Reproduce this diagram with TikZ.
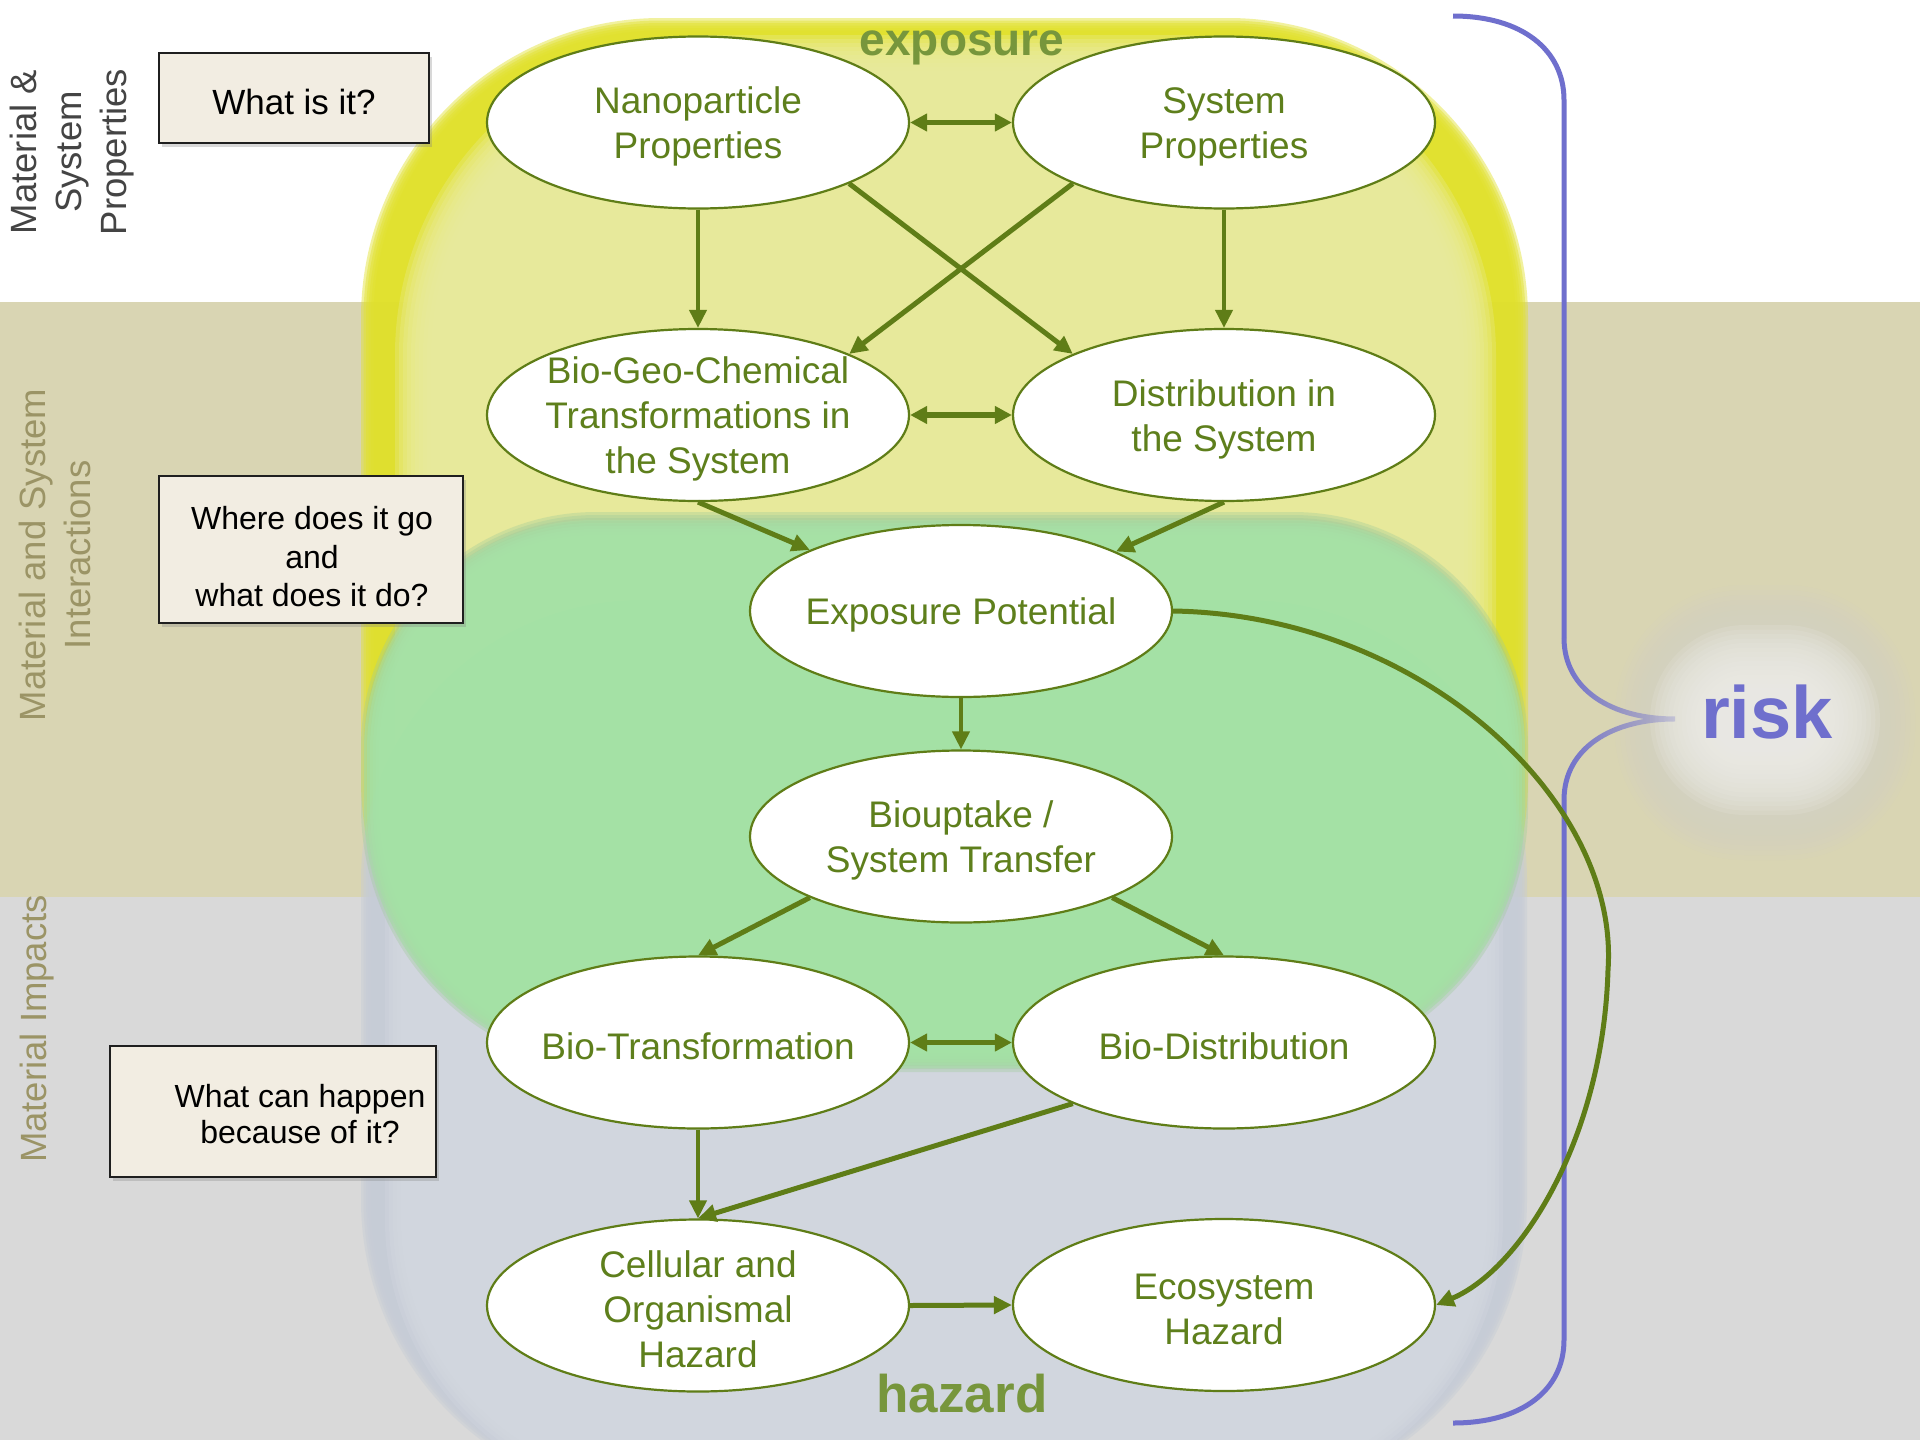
\documentclass[tikz,border=0pt]{standalone}
\usepackage{fontspec}
\setmainfont{Liberation Sans}
\usetikzlibrary{arrows.meta,shapes.geometric,shadows,fadings}

\definecolor{olv}{HTML}{5F7D17}
\definecolor{olvtxt}{HTML}{5E7F1C}
\definecolor{lblc}{HTML}{77963C}
\definecolor{tanband}{HTML}{D9D5B3}
\definecolor{grayband}{HTML}{D9D9D9}
\definecolor{ybright}{HTML}{E1E12C}
\definecolor{ylight}{HTML}{EAEC9F}
\definecolor{grn}{HTML}{A6E3A7}
\definecolor{grnrim}{HTML}{9FCB9A}
\definecolor{bluerim}{HTML}{C6CCD6}
\definecolor{bluein}{HTML}{D4D9E1}
\definecolor{riskc}{HTML}{6F6FCD}
\definecolor{sidedark}{HTML}{444444}
\definecolor{sideolive}{HTML}{9B9466}
\definecolor{boxfill}{HTML}{F2EDE2}
\definecolor{glowring}{HTML}{D3D1C6}
\definecolor{glowcore}{HTML}{EEEDE9}

% rounded rectangle, shrunk by an inset
% #1 x1, #2 y1, #3 x2, #4 y2, #5 top corner radius, #6 bottom corner radius, #7 inset, #8 fill options
\newcommand\rrfill[8]{%
  \fill[#8] ({#1+#7},{#2+#5})
    .. controls ({#1+#7},{#2+#5-0.552*(#5-#7)}) and ({#1+#5-0.552*(#5-#7)},{#2+#7}) .. ({#1+#5},{#2+#7})
    -- ({#3-#5},{#2+#7})
    .. controls ({#3-#5+0.552*(#5-#7)},{#2+#7}) and ({#3-#7},{#2+#5-0.552*(#5-#7)}) .. ({#3-#7},{#2+#5})
    -- ({#3-#7},{#4-#6})
    .. controls ({#3-#7},{#4-#6+0.552*(#6-#7)}) and ({#3-#6+0.552*(#6-#7)},{#4-#7}) .. ({#3-#6},{#4-#7})
    -- ({#1+#6},{#4-#7})
    .. controls ({#1+#6-0.552*(#6-#7)},{#4-#7}) and ({#1+#7},{#4-#6+0.552*(#6-#7)}) .. ({#1+#7},{#4-#6})
    -- cycle;}
% soft-edged version: stacked translucent insets
% #7 colour, #8 number of layers, #9 inset step
\def\softop{0.4}
\newcommand\softrr[9]{%
  \foreach \k in {1,...,#8}{\rrfill{#1}{#2}{#3}{#4}{#5}{#6}{(\k-1)*#9}{#7,fill opacity=\softop}}}

% brace tip fades out toward the point
\tikzfading[name=tipfade, left color=transparent!0, middle color=transparent!15, right color=transparent!75]

\begin{document}
\begin{tikzpicture}[x=1pt,y=-1pt,
  ell/.style={ellipse,draw=olv,line width=2.2pt,fill=white,minimum width=422pt,minimum height=172pt,inner sep=0pt},
  etext/.style={text=olvtxt,align=center,font=\fontsize{37}{45}\selectfont,inner sep=0pt,yshift=-4pt},
  arr/.style={draw=olv,line width=4pt,-{Triangle[length=18pt,width=17pt]}},
  heavy arr/.style={arr,line width=5pt},
  darr/.style={draw=olv,line width=5.5pt,{Triangle[length=17pt,width=17pt]}-{Triangle[length=17pt,width=17pt]}},
  qbox/.style={draw=black!88,line width=2pt,fill=boxfill,inner sep=0pt,
    drop shadow={shadow xshift=3pt,shadow yshift=-4pt,opacity=.3}},
  qtext/.style={align=center,text=black,inner sep=0pt},
  side/.style={rotate=90,align=center,inner sep=0pt,font=\fontsize{36.5}{45}\selectfont},
  biglbl/.style={anchor=base,inner sep=0pt}
]
\useasboundingbox (0,0) rectangle (1920,1440);

% horizontal bands
\fill[white] (0,0) rectangle (1920,302);
\fill[tanband] (0,302) rectangle (1920,897);
\fill[grayband] (0,897) rectangle (1920,1440);

% exposure area
\def\softop{0.45}
\softrr{361}{18}{1528}{1080}{300}{300}{ybright}{6}{2.5}
\def\softop{0.3}
\softrr{395}{35}{1496}{1080}{320}{320}{ylight}{10}{4}

% hazard area
\def\softop{0.45}
\softrr{361}{600}{1527}{1500}{280}{300}{bluerim}{6}{2.5}
\def\softop{0.3}
\softrr{385}{620}{1503}{1500}{260}{280}{bluein}{10}{4}

% overlap of exposure and hazard
\def\softop{0.35}
\softrr{361}{512}{1528}{1072}{235}{265}{grnrim}{5}{3}
\def\softop{0.4}
\softrr{364}{520}{1525}{1068}{230}{260}{grn}{8}{3}

% glow behind "risk"
\def\softop{0.14}
\softrr{1615}{585}{1915}{860}{130}{130}{glowring}{14}{5}
\def\softop{0.15}
\softrr{1650}{625}{1880}{815}{95}{95}{glowcore}{16}{4.5}

% brace
\draw[riskc,line width=5pt] (1453,16) .. controls (1522,16) and (1564,50) .. (1564,100) -- (1564,638);
\draw[riskc,line width=5pt,path fading=tipfade] (1564,638) .. controls (1564,690) and (1612,719) .. (1675,719)
  .. controls (1612,719) and (1564,748) .. (1564,800);
\draw[riskc,line width=5pt] (1564,800) -- (1564,1340) .. controls (1564,1390) and (1522,1423) .. (1453,1423);

% area labels
\node[biglbl,text=lblc,font=\bfseries\fontsize{46}{50}\selectfont] (lexp) at (962,55) {exposure};
\node[biglbl,text=lblc,font=\bfseries\fontsize{53}{56}\selectfont] (lhaz) at (962,1412) {hazard};
\node[biglbl,text=riskc,font=\bfseries\fontsize{74}{80}\selectfont] (lrisk) at (1767,738) {risk};

% ellipses
\node[ell] (np)  at (698,122.5) {};
\node[ell] (sp)  at (1224,122.5) {};
\node[ell] (bgc) at (698,415) {};
\node[ell] (dis) at (1224,415) {};
\node[ell] (ep)  at (961,611) {};
\node[ell] (bu)  at (961,836.5) {};
\node[ell] (bt)  at (698,1042.5) {};
\node[ell] (bd)  at (1224,1042.5) {};
\node[ell] (ch)  at (698,1305.5) {};
\node[ell] (eh)  at (1224,1305) {};

\node[etext] (np-t)  at (np)  {Nanoparticle\\Properties};
\node[etext] (sp-t)  at (sp)  {System\\Properties};
\node[etext] (bgc-t) at (bgc) {Bio-Geo-Chemical\\Transformations in\\the System};
\node[etext] (dis-t) at (dis) {Distribution in\\the System};
\node[etext] (ep-t)  at (ep)  {Exposure Potential};
\node[etext] (bu-t)  at (bu)  {Biouptake /\\System Transfer};
\node[etext] (bt-t)  at (bt)  {Bio-Transformation};
\node[etext] (bd-t)  at (bd)  {Bio-Distribution};
\node[etext] (ch-t)  at (ch)  {Cellular and\\Organismal\\Hazard};
\node[etext] (eh-t)  at (eh)  {Ecosystem\\Hazard};

% connectors
\draw[darr] (np.east) -- (sp.west);
\draw[arr] (np.south) -- (bgc.north);
\draw[arr] (sp.south) -- (dis.north);
\draw[heavy arr] (np.-22) -- (dis.158);
\draw[heavy arr] (sp.202) -- (bgc.22);
\draw[darr] (bgc.east) -- (dis.west);
\draw[heavy arr] (bgc.south) -- (ep.158);
\draw[heavy arr] (dis.south) -- (ep.21);
\draw[arr] (ep.south) -- (bu.north);
\draw[heavy arr] (bu.202) -- (bt.north);
\draw[heavy arr] (bu.-22) -- (bd.north);
\draw[darr] (bt.east) -- (bd.west);
\draw[arr] (bt.south) -- (ch.north);
\draw[heavy arr] (bd.202) -- (ch.north);
\draw[heavy arr] (ch.east) -- (eh.west);
\draw[heavy arr] (ep.east) .. controls (1420,615) and (1620,800) .. (1608,970)
  .. controls (1603,1140) and (1520,1270) .. (eh.east);

% question boxes
\node[qbox,minimum width=270pt,minimum height=90pt] (q1) at (294,98) {};
\node[qtext,font=\fontsize{35}{40}\selectfont] (q1-t) at (294,102) {What is it?};
\node[qbox,minimum width=304pt,minimum height=147pt] (q2) at (311,549.5) {};
\node[qtext,font=\fontsize{32}{38.5}\selectfont] (q2-t) at (312,557) {Where does it go\\and\\what does it do?};
\node[qbox,minimum width=326pt,minimum height=131pt] (q3) at (273,1111.5) {};
\node[qtext,font=\fontsize{32}{36.5}\selectfont] (q3-t) at (300,1114) {What can happen\\because of it?};

% band titles
\node[side,text=sidedark] (s1) at (72,152) {Material \&\\System\\Properties};
\node[side,text=sideolive] (s2) at (55,555) {Material and System\\Interactions};
\node[side,text=sideolive] (s3) at (37,1029) {Material Impacts};
\end{tikzpicture}
\end{document}
